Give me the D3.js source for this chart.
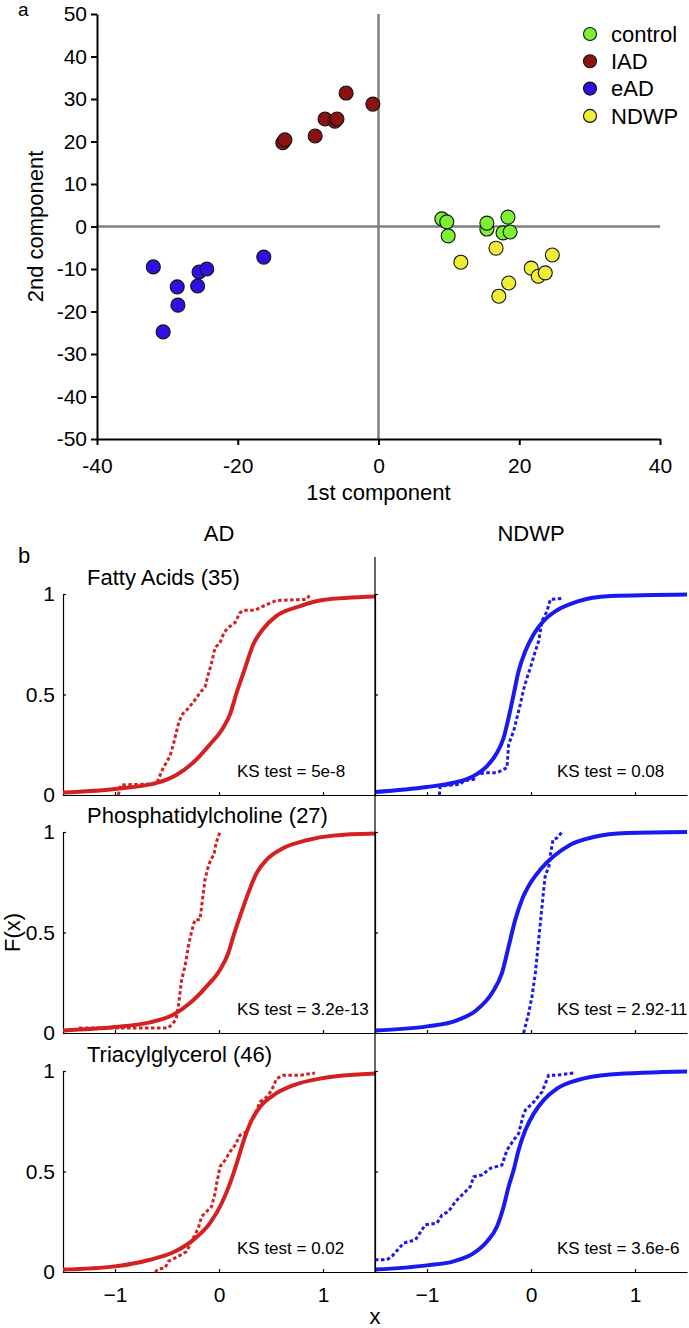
<!DOCTYPE html>
<html>
<head>
<meta charset="utf-8">
<script src="https://cdn.jsdelivr.net/npm/d3@7"></script>
<style>
  body { margin: 0; background: #fff; }
  text { font-family: "Liberation Sans", Arial, Helvetica, sans-serif; }
</style>
</head>
<body>
<svg id="fig" width="689" height="1328"></svg>
<script>
// ---------- panel a: PCA scores ----------
var groupNames = ["control", "IAD", "eAD", "NDWP"];
var controlPts = [[9.0, 1.8], [9.7, 1.1], [9.9, -2.2], [15.4, -0.6], [15.4, 0.8], [18.4, 2.2], [17.7, -1.5], [18.7, -1.3]];
var iadPts = [[-13.6, 19.7], [-13.3, 20.4], [-9.0, 21.3], [-7.6, 25.3], [-6.2, 24.8], [-5.9, 25.3], [-4.6, 31.4], [-0.8, 28.8]];
var eadPts = [[-32.0, -9.5], [-30.6, -24.8], [-28.6, -14.2], [-28.5, -18.5], [-25.7, -14.0], [-25.5, -10.7], [-24.4, -10.0], [-16.3, -7.2]];
var ndwpPts = [[11.7, -8.4], [16.7, -5.1], [17.1, -16.4], [18.5, -13.3], [21.7, -9.8], [22.7, -11.7], [23.7, -10.9], [24.7, -6.7]];
var pcaXTicks = [-40, -20, 0, 20, 40];
var pcaYTicks = [-50, -40, -30, -20, -10, 0, 10, 20, 30, 40, 50];

// ---------- panel b: cumulative distributions ----------
var columnNames = ["AD", "NDWP"];
var rowTitles = ["Fatty Acids (35)", "Phosphatidylcholine (27)", "Triacylglycerol (46)"];
var ksAD = ["5e-8", "3.2e-13", "0.02"];
var ksNDWP = ["0.08", "2.92-11", "3.6e-6"];
var cdfXTicks = [-1, 0, 1];
var cdfYTicks = [0, 0.5, 1];

// [x, F(x)]
var adFattyFit = [[-1.5, 0.012], [-1.0, 0.03], [-0.6, 0.06], [-0.41, 0.10], [-0.25, 0.16], [-0.09, 0.25], [0.04, 0.335], [0.105, 0.40], [0.17, 0.51], [0.25, 0.63], [0.33, 0.75], [0.43, 0.83], [0.55, 0.89], [0.78, 0.94], [1.0, 0.97], [1.5, 0.987]];
var adFattyEcdf = [[-0.968, 0], [-0.946, 0.05], [-0.6, 0.056], [-0.583, 0.078], [-0.535, 0.136], [-0.471, 0.194], [-0.439, 0.252], [-0.391, 0.352], [-0.359, 0.398], [-0.295, 0.431], [-0.215, 0.484], [-0.183, 0.509], [-0.135, 0.537], [-0.103, 0.6], [-0.071, 0.658], [-0.038, 0.733], [0.01, 0.758], [0.048, 0.808], [0.09, 0.833], [0.154, 0.857], [0.202, 0.907], [0.234, 0.919], [0.346, 0.919], [0.426, 0.94], [0.554, 0.968], [0.843, 0.973], [0.875, 0.998]];
var ndwpFattyFit = [[-1.5, 0.015], [-1.0, 0.04], [-0.744, 0.061], [-0.551, 0.095], [-0.423, 0.144], [-0.327, 0.21], [-0.263, 0.285], [-0.215, 0.385], [-0.167, 0.5], [-0.119, 0.617], [-0.054, 0.716], [0.026, 0.8], [0.122, 0.866], [0.25, 0.919], [0.442, 0.962], [0.763, 0.99], [1.5, 0.998]];
var ndwpFattyEcdf = [[-0.881, 0], [-0.872, 0.045], [-0.679, 0.053], [-0.647, 0.07], [-0.551, 0.078], [-0.535, 0.1], [-0.439, 0.111], [-0.327, 0.111], [-0.231, 0.136], [-0.215, 0.252], [-0.167, 0.318], [-0.135, 0.385], [-0.103, 0.451], [-0.071, 0.526], [-0.038, 0.584], [-0.006, 0.633], [0.042, 0.716], [0.074, 0.766], [0.106, 0.866], [0.154, 0.915], [0.186, 0.973], [0.298, 0.978]];

var adPcFit = [[-1.5, 0.013], [-1.0, 0.03], [-0.663, 0.053], [-0.439, 0.091], [-0.279, 0.149], [-0.119, 0.232], [0.01, 0.315], [0.09, 0.398], [0.138, 0.481], [0.202, 0.58], [0.282, 0.697], [0.362, 0.796], [0.458, 0.862], [0.619, 0.92], [0.843, 0.959], [1.099, 0.982], [1.5, 0.992]];
var adPcEcdf = [[-1.346, 0.025], [-0.487, 0.025], [-0.413, 0.066], [-0.391, 0.133], [-0.359, 0.265], [-0.327, 0.332], [-0.295, 0.431], [-0.263, 0.506], [-0.231, 0.564], [-0.183, 0.564], [-0.167, 0.63], [-0.135, 0.763], [-0.112, 0.813], [-0.08, 0.862], [-0.048, 0.887], [-0.029, 0.945], [0.01, 1.0]];
var ndwpPcFit = [[-1.5, 0.013], [-1.0, 0.033], [-0.712, 0.063], [-0.519, 0.116], [-0.375, 0.199], [-0.279, 0.299], [-0.215, 0.431], [-0.151, 0.564], [-0.087, 0.663], [-0.006, 0.746], [0.09, 0.813], [0.218, 0.879], [0.378, 0.937], [0.603, 0.975], [0.923, 0.995], [1.5, 1.0]];
var ndwpPcEcdf = [[-0.071, 0], [-0.022, 0.1], [0.01, 0.182], [0.042, 0.299], [0.074, 0.464], [0.106, 0.63], [0.122, 0.713], [0.138, 0.788], [0.17, 0.821], [0.186, 0.887], [0.212, 0.962], [0.25, 0.97], [0.298, 1.0]];

var adTagFit = [[-1.5, 0.012], [-1.0, 0.028], [-0.663, 0.061], [-0.439, 0.098], [-0.247, 0.16], [-0.087, 0.243], [0.026, 0.342], [0.106, 0.441], [0.17, 0.54], [0.25, 0.673], [0.314, 0.755], [0.394, 0.821], [0.522, 0.879], [0.715, 0.929], [0.971, 0.962], [1.5, 0.987]];
var adTagEcdf = [[-0.615, 0], [-0.583, 0.015], [-0.519, 0.02], [-0.487, 0.053], [-0.391, 0.078], [-0.311, 0.102], [-0.247, 0.169], [-0.199, 0.218], [-0.167, 0.276], [-0.119, 0.301], [-0.071, 0.326], [-0.038, 0.392], [-0.022, 0.441], [0.01, 0.524], [0.058, 0.557], [0.106, 0.598], [0.154, 0.631], [0.202, 0.681], [0.266, 0.698], [0.298, 0.739], [0.362, 0.805], [0.394, 0.846], [0.458, 0.871], [0.506, 0.904], [0.554, 0.962], [0.619, 0.979], [0.779, 0.979], [0.923, 0.99]];
var ndwpTagFit = [[-1.5, 0.012], [-1.0, 0.033], [-0.744, 0.053], [-0.551, 0.094], [-0.423, 0.152], [-0.327, 0.226], [-0.263, 0.326], [-0.215, 0.425], [-0.167, 0.507], [-0.119, 0.607], [-0.054, 0.706], [0.026, 0.788], [0.122, 0.855], [0.25, 0.912], [0.442, 0.954], [0.763, 0.983], [1.5, 0.998]];
var ndwpTagEcdf = [[-1.5, 0.061], [-1.385, 0.061], [-1.337, 0.078], [-1.224, 0.144], [-1.112, 0.16], [-1.016, 0.235], [-0.904, 0.243], [-0.856, 0.284], [-0.792, 0.301], [-0.728, 0.35], [-0.679, 0.375], [-0.583, 0.425], [-0.551, 0.474], [-0.471, 0.483], [-0.391, 0.516], [-0.279, 0.532], [-0.231, 0.607], [-0.167, 0.656], [-0.119, 0.689], [-0.071, 0.788], [-0.054, 0.805], [0.026, 0.846], [0.106, 0.896], [0.17, 0.979], [0.25, 0.979], [0.41, 0.99]];

var fitCurves = [[adFattyFit, ndwpFattyFit], [adPcFit, ndwpPcFit], [adTagFit, ndwpTagFit]];
var ecdfCurves = [[adFattyEcdf, ndwpFattyEcdf], [adPcEcdf, ndwpPcEcdf], [adTagEcdf, ndwpTagEcdf]];
var ksValues = [ksAD, ksNDWP];

var groupColors = ["#7cf032", "#8c1212", "#2c10e4", "#eeee36"];
var lineColors = ["#d42020", "#1a1af0"];

var svg = d3.select("#fig");
var bigFont = 22;

// ================= panel a =================
var xA = d3.scaleLinear().domain([-40, 40]).range([97, 660]);
var yA = d3.scaleLinear().domain([-50, 50]).range([439, 14]);
var gA = svg.append("g");

gA.append("line")
  .attr("x1", xA(-40)).attr("x2", xA(40))
  .attr("y1", yA(0)).attr("y2", yA(0))
  .attr("stroke", "#7f7f7f").attr("stroke-width", 2.5);
gA.append("line")
  .attr("x1", xA(0)).attr("x2", xA(0))
  .attr("y1", yA(-50)).attr("y2", yA(50))
  .attr("stroke", "#7f7f7f").attr("stroke-width", 2.5);

var axisLeftA = gA.append("g")
  .attr("transform", "translate(" + xA(-40) + ",0)")
  .call(d3.axisLeft(yA).tickValues(pcaYTicks).tickSize(6).tickSizeOuter(0).tickPadding(4)
    .tickFormat(function(d) { return String(d); }));
var axisBottomA = gA.append("g")
  .attr("transform", "translate(0," + yA(-50) + ")")
  .call(d3.axisBottom(xA).tickValues(pcaXTicks).tickSize(6).tickSizeOuter(0).tickPadding(13)
    .tickFormat(function(d) { return String(d); }));
[axisLeftA, axisBottomA].forEach(function(ax) {
  ax.attr("font-family", null).attr("font-size", 21);
  ax.selectAll(".domain, .tick line").attr("stroke", "#000").attr("stroke-width", 2);
  ax.selectAll("text").attr("fill", "#000");
});

var pcaGroups = [controlPts, iadPts, eadPts, ndwpPts];
pcaGroups.forEach(function(pts, gi) {
  gA.append("g").selectAll("circle").data(pts).enter().append("circle")
    .attr("cx", function(d) { return xA(d[0]); })
    .attr("cy", function(d) { return yA(d[1]); })
    .attr("r", 7)
    .attr("fill", groupColors[gi])
    .attr("stroke", "#111").attr("stroke-width", 1.1);
});

// legend
var legend = gA.append("g").attr("transform", "translate(590,34)");
groupNames.forEach(function(name, i) {
  var row = legend.append("g").attr("transform", "translate(0," + (i * 27.3) + ")");
  row.append("circle").attr("r", 6.5).attr("fill", groupColors[i]).attr("stroke", "#111").attr("stroke-width", 1.1);
  row.append("text").attr("x", 21).attr("dy", "0.35em").attr("font-size", bigFont).text(name);
});

gA.append("text").attr("x", (xA(-40) + xA(40)) / 2).attr("y", 500)
  .attr("text-anchor", "middle").attr("font-size", bigFont).text("1st component");
gA.append("text").attr("transform", "translate(43," + yA(0) + ") rotate(-90)")
  .attr("text-anchor", "middle").attr("font-size", bigFont).text("2nd component");
gA.append("text").attr("x", 18).attr("y", 16).attr("font-size", 19).text("a");

// ================= panel b =================
var rowZero = [795, 1033, 1272];
var colRanges = [[63, 375], [375, 687]];
var gB = svg.append("g");

var fitLine = d3.line().curve(d3.curveMonotoneX);
var ecdfLine = d3.line();
var minusFmt = function(d) { return d < 0 ? "\u2212" + Math.abs(d) : String(d); };

rowZero.forEach(function(z, ri) {
  var y = d3.scaleLinear().domain([0, 1]).range([z, z - 201]);
  colRanges.forEach(function(cr, ci) {
    var x = d3.scaleLinear().domain([-1.5, 1.5]).range(cr);
    var g = gB.append("g");

    var xa = g.append("g").attr("transform", "translate(0," + z + ")")
      .call(d3.axisBottom(x).tickValues(cdfXTicks).tickSize(-3).tickSizeOuter(0)
        .tickFormat(ri === 2 ? minusFmt : function() { return ""; }));
    xa.selectAll("text").attr("y", 30).attr("dy", null);
    var ya = g.append("g").attr("transform", "translate(" + cr[0] + ",0)")
      .call(d3.axisLeft(y).tickValues(cdfYTicks).tickSize(-3).tickSizeOuter(0).tickPadding(8)
        .tickFormat(ci === 0 ? function(d) { return String(d); } : function() { return ""; }));
    [xa, ya].forEach(function(ax) {
      ax.attr("font-family", null).attr("font-size", 21);
      ax.selectAll(".domain, .tick line").attr("stroke", "#000").attr("stroke-width", 1.2);
      ax.selectAll("text").attr("fill", "#000");
    });

    var pts = function(arr) { return arr.map(function(d) { return [x(d[0]), y(d[1])]; }); };
    g.append("path").attr("d", fitLine(pts(fitCurves[ri][ci])))
      .attr("fill", "none").attr("stroke", lineColors[ci]).attr("stroke-width", 4);
    g.append("path").attr("d", ecdfLine(pts(ecdfCurves[ri][ci])))
      .attr("fill", "none").attr("stroke", lineColors[ci]).attr("stroke-width", 3)
      .attr("stroke-dasharray", "3.5,2.5");

    g.append("text").attr("x", x(ci === 0 ? 0.173 : 0.25)).attr("y", z - 18)
      .attr("font-size", 17).text("KS test = " + ksValues[ci][ri]);
  });
  gB.append("text").attr("x", 87).attr("y", z - 210.5).attr("font-size", bigFont).text(rowTitles[ri]);
});

// divider between the two columns
gB.append("line").attr("x1", 375).attr("x2", 375).attr("y1", 557).attr("y2", rowZero[2])
  .attr("stroke", "#000").attr("stroke-width", 1.2);

columnNames.forEach(function(name, ci) {
  gB.append("text").attr("x", (colRanges[ci][0] + colRanges[ci][1]) / 2).attr("y", 541)
    .attr("text-anchor", "middle").attr("font-size", bigFont).text(name);
});
gB.append("text").attr("x", 18).attr("y", 563).attr("font-size", 22).text("b");
gB.append("text").attr("x", 375).attr("y", 1324).attr("text-anchor", "middle").attr("font-size", bigFont).text("x");
gB.append("text").attr("transform", "translate(20," + ((rowZero[1] + rowZero[1] - 201) / 2) + ") rotate(-90)")
  .attr("text-anchor", "middle").attr("font-size", bigFont).text("F(x)");
</script>
</body>
</html>
